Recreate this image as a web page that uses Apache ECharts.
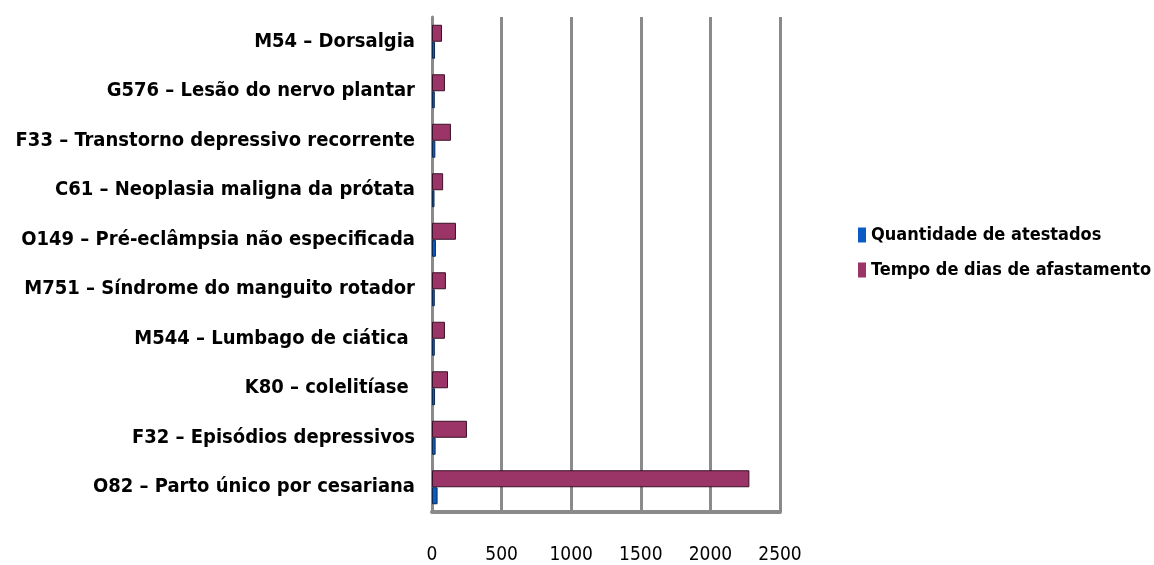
<!DOCTYPE html>
<html>
<head>
<meta charset="utf-8">
<script src="https://cdn.jsdelivr.net/npm/echarts@6/dist/echarts.min.js"></script>
<style>
  html, body { margin: 0; padding: 0; background: #fff; }
  #chart { width: 1154px; height: 565px; }
</style>
</head>
<body>
<div id="chart"></div>
<script>
// categorias, de cima para baixo
const categories = [
  'M54 – Dorsalgia',
  'G576 – Lesão do nervo plantar',
  'F33 – Transtorno depressivo recorrente',
  'C61 – Neoplasia maligna da prótata',
  'O149 – Pré-eclâmpsia não especificada',
  'M751 – Síndrome do manguito rotador',
  'M544 – Lumbago de ciática ',
  'K80 – colelitíase ',
  'F32 – Episódios depressivos',
  'O82 – Parto único por cesariana'
];
const quantidadeAtestados = [22, 20, 24, 18, 28, 20, 20, 22, 26, 40];
const diasAfastamento = [72, 93, 136, 80, 172, 100, 93, 115, 251, 2280];
const xTicks = [0, 500, 1000, 1500, 2000, 2500];

const font = "'Liberation Sans Narrow', 'DejaVu Sans Condensed', 'Liberation Sans', sans-serif";

const chart = echarts.init(document.getElementById('chart'));
chart.setOption({
  animation: false,
  legend: {
    orient: 'vertical',
    left: 853,
    top: 221,
    itemWidth: 8,
    itemHeight: 15,
    itemGap: 17,
    icon: 'rect',
    itemStyle: { borderWidth: 0 },
    textStyle: { fontFamily: font, fontWeight: 'bold', fontSize: 18, color: '#000' },
    data: ['Quantidade de atestados', 'Tempo de dias de afastamento']
  },
  grid: { left: 432, right: 374, top: 17, bottom: 53, outerBoundsMode: 'none' },
  xAxis: {
    type: 'value',
    min: xTicks[0],
    max: xTicks[xTicks.length - 1],
    interval: 500,
    axisLine: { show: true, lineStyle: { color: '#8a8a8a', width: 4 } },
    axisTick: { show: false },
    axisLabel: {
      margin: 34, fontFamily: font, fontSize: 19, color: '#000',
      formatter: function (v) { return String(v); }
    },
    splitLine: { show: true, lineStyle: { color: '#8a8a8a', width: 3 } }
  },
  yAxis: {
    type: 'category',
    inverse: true,
    data: categories,
    axisLine: { show: true, lineStyle: { color: '#8a8a8a', width: 3 } },
    axisTick: { show: false },
    axisLabel: {
      margin: 17, padding: [6, 0, 0, 0],
      fontFamily: font, fontWeight: 'bold', fontSize: 20, color: '#000'
    }
  },
  series: [
    {
      name: 'Tempo de dias de afastamento',
      type: 'bar',
      data: diasAfastamento,
      barWidth: 17,
      barGap: '0%',
      itemStyle: { color: '#9b3467', borderColor: '#3a1028', borderWidth: 1 }
    },
    {
      name: 'Quantidade de atestados',
      type: 'bar',
      data: quantidadeAtestados,
      barWidth: 17,
      itemStyle: { color: '#0a5cc4', borderColor: '#0a2a55', borderWidth: 1 }
    }
  ]
});
</script>
</body>
</html>
